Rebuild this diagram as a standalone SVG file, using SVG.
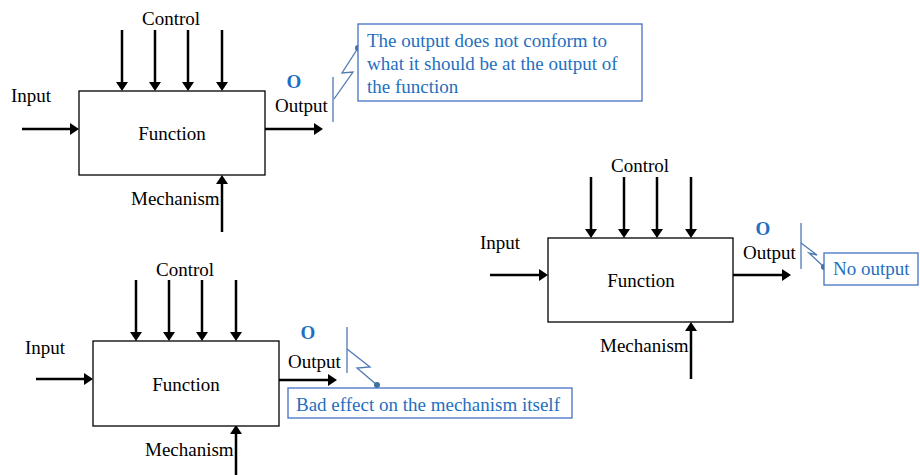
<svg xmlns="http://www.w3.org/2000/svg" width="920" height="475" viewBox="0 0 920 475">
<style>
.t{font-family:"Liberation Serif","Times New Roman",serif;font-size:19px;fill:#000}
.b{font-family:"Liberation Serif","Times New Roman",serif;font-size:19px;fill:#1F6FC0}
.o{font-family:"Liberation Serif","Times New Roman",serif;font-size:19px;font-weight:bold;fill:#1F6FC0}
.box{fill:#fff;stroke:#000;stroke-width:1.3}
.note{fill:#fff;stroke:#4472C4;stroke-width:1.3}
.arr{stroke:#000;stroke-width:2.5;fill:none;marker-end:url(#ah)}
.bolt{stroke:#5079B4;stroke-width:1.3;fill:none}
.dot{fill:#41719C}
</style>
<defs>
<marker id="ah" markerUnits="userSpaceOnUse" viewBox="0 0 9 12" markerWidth="9" markerHeight="12" refX="4" refY="6" orient="auto">
<path d="M0,0 L9,6 L0,12 z" fill="#000"/>
</marker>
</defs>
<rect width="920" height="475" fill="#fff"/>

<g id="connectors">
<!-- diagram 1 -->
<line class="arr" x1="122" y1="30" x2="122" y2="86"/>
<line class="arr" x1="155" y1="30" x2="155" y2="86"/>
<line class="arr" x1="188" y1="30" x2="188" y2="86"/>
<line class="arr" x1="222" y1="30" x2="222" y2="86"/>
<line class="arr" x1="22" y1="129" x2="74" y2="129"/>
<line class="arr" x1="222" y1="232" x2="222" y2="180"/>
<line class="arr" x1="265" y1="129" x2="318" y2="129"/>
<!-- diagram 2 -->
<line class="arr" x1="136" y1="280" x2="136" y2="336"/>
<line class="arr" x1="169" y1="280" x2="169" y2="336"/>
<line class="arr" x1="202" y1="280" x2="202" y2="336"/>
<line class="arr" x1="236" y1="280" x2="236" y2="336"/>
<line class="arr" x1="36" y1="379" x2="88" y2="379"/>
<line class="arr" x1="236" y1="482" x2="236" y2="430"/>
<line class="arr" x1="279" y1="380" x2="332" y2="380"/>
<!-- diagram 3 -->
<line class="arr" x1="591" y1="177" x2="591" y2="233"/>
<line class="arr" x1="624" y1="177" x2="624" y2="233"/>
<line class="arr" x1="657" y1="177" x2="657" y2="233"/>
<line class="arr" x1="691" y1="177" x2="691" y2="233"/>
<line class="arr" x1="490" y1="275" x2="543" y2="275"/>
<line class="arr" x1="691" y1="379" x2="691" y2="327"/>
<line class="arr" x1="733" y1="275" x2="786" y2="275"/>
<!-- bolts -->
<line class="bolt" x1="333" y1="77" x2="333" y2="122"/>
<polyline class="bolt" points="334,99 353,72 342,73 358,48"/>
<circle class="dot" cx="358" cy="48" r="3"/>
<line class="bolt" x1="347" y1="327" x2="347" y2="373"/>
<polyline class="bolt" points="347,349 370,367 357,368 377,385"/>
<circle class="dot" cx="377" cy="385" r="3"/>
<line class="bolt" x1="801" y1="223" x2="801" y2="269"/>
<polyline class="bolt" points="801,243 817,255 809,253 824,267"/>
<circle class="dot" cx="824" cy="267" r="3"/>
</g>

<g id="function1">
<rect class="box" x="79" y="91" width="186" height="84"/>
<text class="t" x="172" y="140" text-anchor="middle">Function</text>
<text class="t" x="171" y="25" text-anchor="middle">Control</text>
<text class="t" x="11" y="102">Input</text>
<text class="t" x="131" y="205">Mechanism</text>
<text class="t" x="275" y="112">Output</text>
<text class="o" x="294" y="88" text-anchor="middle">O</text>
</g>
<g id="note1">
<rect class="note" x="358" y="24" width="284" height="77"/>
<text class="b" x="367" y="47">The output does not conform to</text>
<text class="b" x="367" y="70">what it should be at the output of</text>
<text class="b" x="367" y="93">the function</text>
</g>

<g id="function2">
<rect class="box" x="93" y="341" width="186" height="85"/>
<text class="t" x="186" y="391" text-anchor="middle">Function</text>
<text class="t" x="185" y="276" text-anchor="middle">Control</text>
<text class="t" x="25" y="354">Input</text>
<text class="t" x="145" y="456">Mechanism</text>
<text class="t" x="288" y="368">Output</text>
<text class="o" x="308" y="339" text-anchor="middle">O</text>
</g>
<g id="note2">
<rect class="note" x="288" y="388" width="284" height="30"/>
<text class="b" x="296" y="411">Bad effect on the mechanism itself</text>
</g>

<g id="function3">
<rect class="box" x="548" y="238" width="185" height="84"/>
<text class="t" x="641" y="287" text-anchor="middle">Function</text>
<text class="t" x="640" y="172" text-anchor="middle">Control</text>
<text class="t" x="480" y="249">Input</text>
<text class="t" x="600" y="352">Mechanism</text>
<text class="t" x="743" y="259">Output</text>
<text class="o" x="763" y="235" text-anchor="middle">O</text>
</g>
<g id="note3">
<rect class="note" x="824" y="253" width="94" height="32"/>
<text class="b" x="833" y="275">No output</text>
</g>
</svg>
